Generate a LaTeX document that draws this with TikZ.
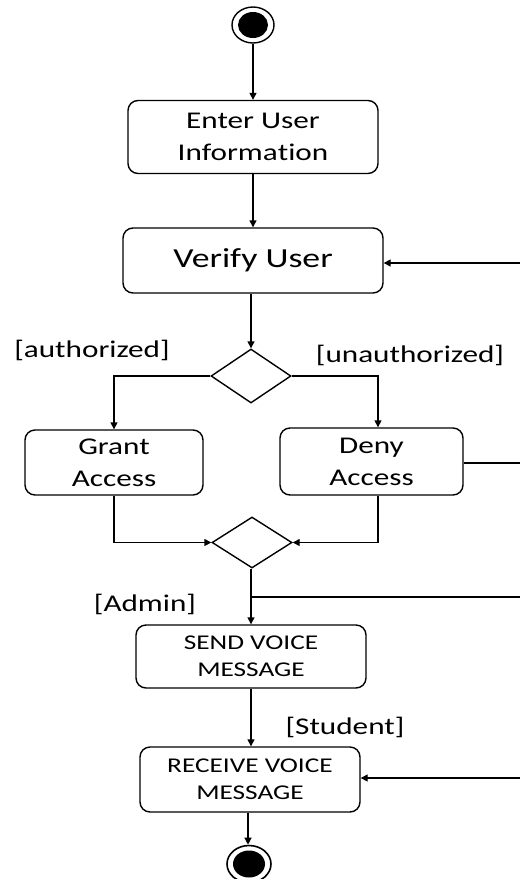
\documentclass[tikz,border=0pt]{standalone}
\usepackage{fontspec}
\setmainfont{Carlito}[FakeStretch=1.3,Ligatures={NoCommon,NoRare},Contextuals=NoAlternate]
\usetikzlibrary{arrows.meta,shapes.geometric}
\tikzset{
  act/.style={draw, line width=1.4pt, rounded corners=10pt, align=center, inner sep=0pt},
  dec/.style={draw, diamond, line width=1.4pt, inner sep=0pt, minimum width=80pt, minimum height=54pt, aspect=1.48},
  flow/.style={line width=1.4pt, -{Triangle[length=7pt,width=7pt]}},
  plain/.style={line width=1.4pt},
  guard/.style={font=\fontsize{24}{28}\selectfont, inner sep=0pt}
}
\begin{document}
\begin{tikzpicture}[x=1pt,y=-1pt]
\useasboundingbox (0,0) rectangle (520,879);
% start
\node (start) at (253,25) [ellipse, draw, line width=1.4pt, minimum width=42pt, minimum height=36pt, inner sep=0pt] {};
\fill (253,25) ellipse (15 and 13);
\node (enter) at (253,137) [act, minimum width=250pt, minimum height=73pt, font=\fontsize{24}{32}\selectfont] {Enter User\\Informa\kern0pt tion};
\node (verify) at (253,260.5) [act, minimum width=260pt, minimum height=65pt, font=\fontsize{27.5}{32}\selectfont] {Verify User};
\node (d1) at (251,376) [dec] {};
\node (grant) at (114,462.5) [act, minimum width=178pt, minimum height=65pt, font=\fontsize{24}{32}\selectfont] {Grant\\Access};
\node (deny) at (371.5,461.5) [act, minimum width=183pt, minimum height=67pt, font=\fontsize{24}{32}\selectfont] {Deny\\Access};
\node (d2) at (252,542.5) [dec, minimum height=51pt, aspect=1.57] {};
\node (send) at (251,656.5) [act, minimum width=230pt, minimum height=63pt, font=\fontsize{21}{27}\selectfont] {SEND VOICE\\MESSAGE};
\node (receive) at (250,779.5) [act, minimum width=220pt, minimum height=65pt, font=\fontsize{21}{27}\selectfont] {RECEIVE VOICE\\MESSAGE};
\node (end) at (249,864) [ellipse, draw, line width=1.6pt, minimum width=44pt, minimum height=37pt, inner sep=0pt] {};
\fill (249,864) ellipse (16 and 13.5);
% guards
\node (lauth) at (92,350) [guard] {[authorized]};
\node (lunauth) at (410,355) [guard] {[unauthorized]};
\node (ladmin) at (145,604) [guard] {[Admin]};
\node (lstudent) at (345,727) [guard] {[Student]};
% free ends on the right edge
\coordinate (r1) at (520,263);
\coordinate (r2) at (520,463);
\coordinate (r3) at (520,597);
\coordinate (r4) at (520,778);
\coordinate (j) at (251,597);
% connectors
\draw[flow] (start) -- (enter);
\draw[flow] (enter) -- (enter |- verify.north);
\draw[flow] (r1) -- (r1 -| verify.east);
\draw[flow] (verify.south -| d1) -- (d1.north);
\draw[flow] (d1.west) -| (grant.north);
\draw[flow] (d1.east) -| (deny.north -| 378,0);
\draw[plain] (deny.east |- r2) -- (r2);
\draw[flow] (grant.south) |- (d2.west);
\draw[flow] (deny.south -| 378,0) |- (d2.east);
\draw[flow] (d2.south -| j) -- (send.north -| j);
\draw[plain] (j) -- (r3);
\draw[flow] (send.south -| j) -- (receive.north -| j);
\draw[flow] (r4) -- (r4 -| receive.east);
\draw[flow] (receive.south -| 248,0) -- (end.north -| 248,0);
\end{tikzpicture}
\end{document}
